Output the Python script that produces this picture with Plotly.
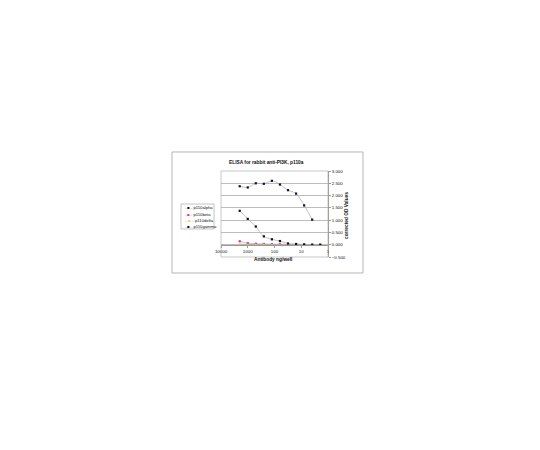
import plotly.graph_objects as go

# antibody amount (ng/well), 2-fold dilutions
conc = [2000, 1000, 500, 250, 125, 62.5, 31.25, 15.6, 7.8, 3.9, 1.95]

# corrected OD values
p110alpha = [2.38, 2.33, 2.50, 2.48, 2.60, 2.45, 2.22, 2.08, 1.60, 1.02]
p110beta = [0.14, 0.06, 0.04, 0.03, 0.02, 0.02, 0.01, 0.01, 0.01, 0.00, 0.00]
p110delta = [0.02, 0.01, 0.01, 0.01, 0.00, 0.00, 0.00, 0.00, 0.00, 0.00, 0.00]
p110gamma = [1.38, 1.05, 0.74, 0.34, 0.22, 0.15, 0.05, 0.03, 0.01, 0.00, 0.00]

x_ticks = [10000, 1000, 100, 10, 1]
y_ticks = [-0.5, 0, 0.5, 1.0, 1.5, 2.0, 2.5, 3.0]

series = [
    ("p110alpha", p110alpha, "#101030", "square"),
    ("p110beta", p110beta, "#e0308a", "square"),
    ("p110delta", p110delta, "#d8d040", "triangle-up"),
    ("p110gamma", p110gamma, "#101010", "square"),
]

fig = go.Figure()

for name, vals, col, sym in series:
    fig.add_trace(go.Scatter(
        x=conc[:len(vals)], y=vals, name=name,
        mode="lines+markers",
        line=dict(color="#a8a8a8", width=0.7, shape="spline"),
        marker=dict(color=col, size=2.2, symbol=sym),
        showlegend=False,
    ))

fam = "Liberation Sans, Arial, sans-serif"
font = dict(family=fam, size=4.4, color="#111")

# the page body adds an 8px offset, margins compensate for it
fig.update_layout(
    width=540, height=450,
    margin=dict(l=213, r=220, t=163, b=201),
    paper_bgcolor="white", plot_bgcolor="white",
    font=font,
    xaxis=dict(
        type="log", range=[4, 0],
        tickvals=x_ticks, ticktext=[str(v) for v in x_ticks],
        showgrid=False, showline=True, linecolor="#999", linewidth=0.7,
        ticks="outside", ticklen=2, tickcolor="#999",
        anchor="free", position=0.5 / 3.5,
        tickfont=font, zeroline=False,
    ),
    yaxis=dict(
        range=[-0.5, 3.0], side="right",
        tickvals=y_ticks, tickformat=".3f",
        showgrid=True, gridcolor="#bdbdbd", gridwidth=0.6,
        showline=True, linecolor="#999", linewidth=0.7,
        ticks="outside", ticklen=2, tickcolor="#999",
        zeroline=False, tickfont=font,
    ),
)

# plot area border, outer chart frame and legend box
fig.add_shape(type="rect", xref="paper", yref="paper",
              x0=0, x1=1, y0=0, y1=1,
              line=dict(color="#b0b0b0", width=0.7))
fig.add_shape(type="rect", xref="paper", yref="paper",
              x0=-0.458, x1=1.327, y0=-0.186, y1=1.221,
              line=dict(color="#b5b5b5", width=1))
fig.add_shape(type="rect", xref="paper", yref="paper",
              x0=-0.374, x1=-0.065, y0=0.326, y1=0.616,
              line=dict(color="#aaa", width=0.7))

title_font = dict(size=4.8, family=fam, color="#111")

# titles
fig.add_annotation(text="<b>ELISA for rabbit anti-PI3K, p110a</b>", xref="paper", yref="paper",
                   x=0.427, y=1.151, showarrow=False, font=title_font)
fig.add_annotation(text="<b>Antibody ng/well</b>", xref="paper", yref="paper",
                   x=0.489, y=-0.081, showarrow=False, font=title_font)
fig.add_annotation(text="<b>corrected OD Values</b>", xref="paper", yref="paper",
                   x=1.21, y=0.488, textangle=-90, showarrow=False, font=title_font)

# legend entries
leg_y = [0.570, 0.500, 0.427, 0.357]
glyph = {"square": "■", "triangle-up": "▲"}
for (name, vals, col, sym), ly in zip(series, leg_y):
    fig.add_annotation(
        text=f"<span style='color:#999'>–</span><span style='color:{col}'>{glyph[sym]}</span>"
             f"<span style='color:#999'>–</span> {name}",
        xref="paper", yref="paper", x=-0.355, y=ly, xanchor="left",
        showarrow=False, font=dict(size=4.2, family=fam, color="#111"))

fig.write_html("out.html")
